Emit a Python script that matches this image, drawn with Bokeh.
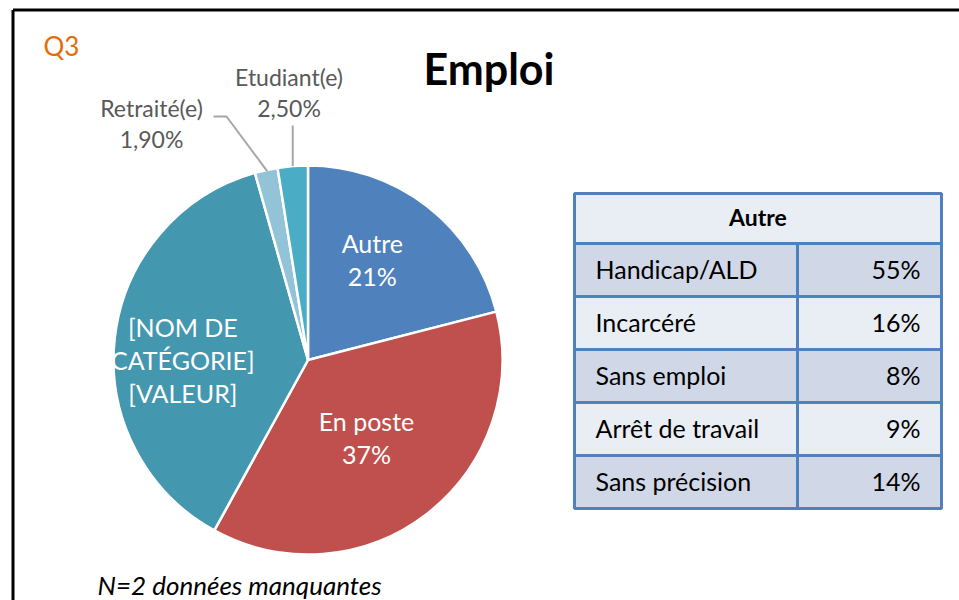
import numpy as np
from bokeh.plotting import figure
from bokeh.models import Range1d, ColumnDataSource
from bokeh.core.properties import value
from bokeh.embed import file_html
from bokeh.resources import INLINE

# ---------------- data ----------------
categories = ["Autre", "En poste", "[NOM DE CATÉGORIE]", "Retraité(e)", "Etudiant(e)"]
shares = [21.0, 37.0, 37.6, 1.9, 2.5]
inside_label_lines = [["Autre", "21%"], ["En poste", "37%"], ["[NOM DE", "CATÉGORIE]", "[VALEUR]"]]
outside_label_lines = [["Retraité(e)", "1,90%"], ["Etudiant(e)", "2,50%"]]
slice_colors = ["#4F81BD", "#C0504D", "#4397AE", "#93C3D6", "#4BACC6"]

table_title = "Autre"
table_rows = ["Handicap/ALD", "Incarcéré", "Sans emploi", "Arrêt de travail", "Sans précision"]
table_values = ["55%", "16%", "8%", "9%", "14%"]

chart_title = "Emploi"
question = "Q3"
footnote = "N=2 données  manquantes"

# ---------------- layout ----------------
W, H = 959, 600
FONT = "Lato"


def X(x):
    return x


def Y(y):
    return H - y


p = figure(width=W, height=H, x_range=Range1d(0, W), y_range=Range1d(0, H),
           output_backend="svg", toolbar_location=None, min_border=0,
           x_axis_location=None, y_axis_location=None)
p.grid.visible = False
p.outline_line_color = None
p.background_fill_color = "white"
p.border_fill_color = "white"


def txt(xs, ys_baseline, texts, size, color="black", align="left", style="normal"):
    # ys are screen baselines (from top); shift compensates renderer baseline offset
    ys = [Y(y) + 0.4 * size for y in ys_baseline]
    p.text(x=[X(x) for x in xs], y=ys, text=texts, text_font=value(FONT),
           text_font_size=f"{size}px", text_font_style=style, text_color=color,
           text_align=align, text_baseline="alphabetic")


# outer frame (top and left edges visible; right/bottom beyond crop)
p.line([X(12.5), W + 10], [Y(9.5), Y(9.5)], line_color="black", line_width=3)
p.line([X(12.5), X(12.5)], [Y(9.5), -10], line_color="black", line_width=3)

# ---------------- pie ----------------
cxs, cys, R = 307.5, 359.5, 194.5  # screen coords of centre
cx, cy = X(cxs), Y(cys)
vals = np.array(shares, dtype=float)
frac = vals / vals.sum()
cum_after = np.cumsum(frac)
cum_before = cum_after - frac
starts = np.pi / 2 - 2 * np.pi * cum_before
ends = np.pi / 2 - 2 * np.pi * cum_after
src = ColumnDataSource(dict(start=starts, end=ends, color=slice_colors, cat=categories))
p.wedge(x=cx, y=cy, radius=R, radius_units="screen", start_angle="start", end_angle="end",
        direction="clock", fill_color="color", line_color="white", line_width=2.5, source=src)

# inside labels: anchor from slice mid-angle plus small offsets (screen px)
mid = 2 * np.pi * (cum_before + frac / 2)  # clockwise from top
label_radius = [118, 102, 126]
label_tweak = [(-8, -6), (-4, -2), (0, 15)]
line_gap = 33
for i, lines in enumerate(inside_label_lines):
    ax = cxs + label_radius[i] * np.sin(mid[i]) + label_tweak[i][0]
    ay = cys - label_radius[i] * np.cos(mid[i]) + label_tweak[i][1]
    n = len(lines)
    bl = [ay - (n - 1) / 2 * line_gap + k * line_gap + 9 for k in range(n)]
    txt([ax] * n, bl, lines, 25, color="white", align="center")

# outside labels with leader lines
outside_anchor = [(151, 117), (288.5, 86)]
for (ax, ay), lines in zip(outside_anchor, outside_label_lines):
    txt([ax, ax], [ay, ay + 31], lines, 23, color="#595959", align="center")

ang_r = mid[3]
ang_e = mid[4]
p.line([X(213), X(226), cx + R * np.sin(ang_r) + 1], [Y(116), Y(116), cy + R * np.cos(ang_r) - 1],
       line_color="#A6A6A6", line_width=2)
p.line([cx + R * np.sin(ang_e), cx + R * np.sin(ang_e)], [Y(125), cy + R * np.cos(ang_e)],
       line_color="#A6A6A6", line_width=2)

# ---------------- titles ----------------
txt([488.5], [85], [chart_title], 43, align="center", style="bold")
txt([43], [56], [question], 26, color="#E36C09")
txt([97], [595], [footnote], 26, style="italic")

# ---------------- table ----------------
t_left, t_right, t_div = 574, 941, 797
t_top = 193
head_h = 50
row_h = 53
head_bottom = t_top + head_h
BORDER = "#4F81BD"
LIGHT, DARK = "#E9EDF4", "#D0D8E8"

p.quad(left=[X(t_left)], right=[X(t_right)], top=[Y(t_top)], bottom=[Y(head_bottom)],
       fill_color=LIGHT, line_color=BORDER, line_width=3)
n = len(table_rows)
tops = [head_bottom + i * row_h for i in range(n)]
bots = [t + row_h for t in tops]
fills = [DARK if i % 2 == 0 else LIGHT for i in range(n)]
p.quad(left=[X(t_left)] * n, right=[X(t_div)] * n, top=[Y(t) for t in tops],
       bottom=[Y(b) for b in bots], fill_color=fills, line_color=BORDER, line_width=3)
p.quad(left=[X(t_div)] * n, right=[X(t_right)] * n, top=[Y(t) for t in tops],
       bottom=[Y(b) for b in bots], fill_color=fills, line_color=BORDER, line_width=3)

txt([(t_left + t_right) / 2], [t_top + head_h / 2 + 8], [table_title], 23, align="center",
    style="bold")
mids = [(t + b) / 2 for t, b in zip(tops, bots)]
txt([595] * n, [m + 9 for m in mids], table_rows, 25)
txt([920] * n, [m + 9 for m in mids], table_values, 25, align="right")

open("out.html", "w").write(file_html(p, INLINE))
